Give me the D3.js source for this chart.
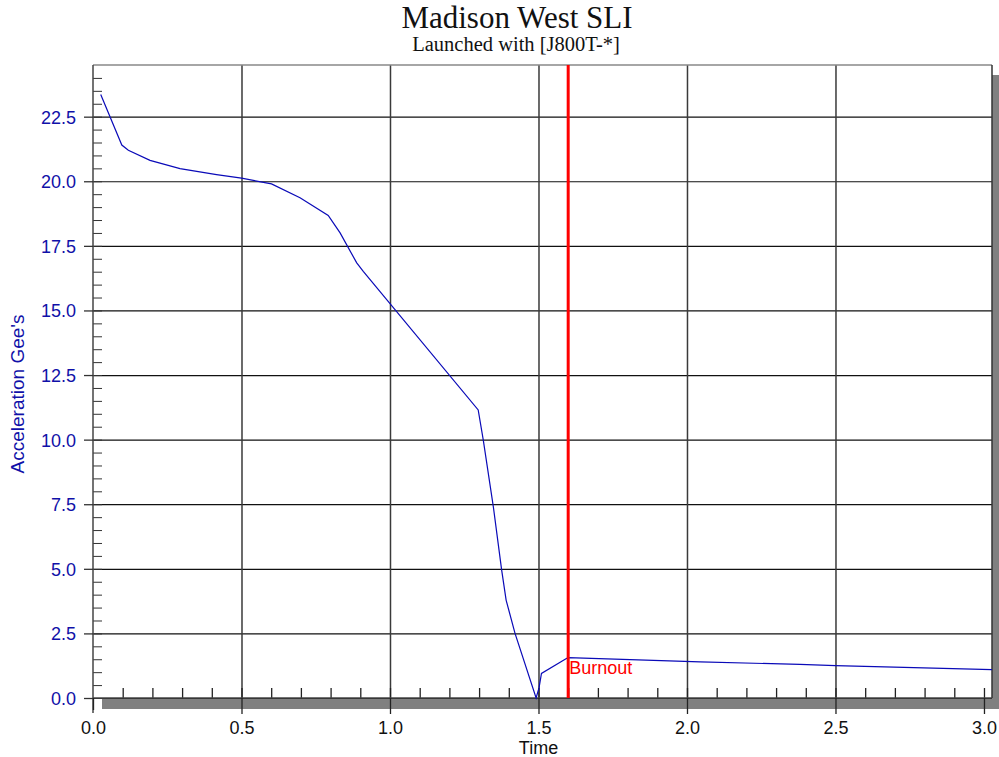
<!DOCTYPE html>
<html>
<head>
<meta charset="utf-8">
<script src="https://cdn.jsdelivr.net/npm/d3@7"></script>
<style>
  body { margin: 0; background: #fff; }
  svg text { font-family: "Liberation Sans", Arial, sans-serif; }
  .domain { display: none; }
</style>
</head>
<body>
<div id="chart-ctn"></div>
<script>
// Chart data
let timeValues = [0.026, 0.097, 0.119, 0.192, 0.293, 0.416, 0.5, 0.601, 0.697, 0.792, 0.832, 0.888, 0.91,
    1.297, 1.314, 1.348, 1.376, 1.391, 1.421, 1.492, 1.502, 1.51, 1.594, 1.6, 2.044, 2.38, 2.5, 3.027];
let accelValues = [23.36, 21.4, 21.2, 20.81, 20.49, 20.26, 20.12, 19.9, 19.36, 18.68, 18.0, 16.84, 16.51,
    11.15, 9.99, 7.4, 4.95, 3.79, 2.5, 0.0, 0.4, 0.95, 1.53, 1.56, 1.40, 1.30, 1.25, 1.10];
let xTicks = [0, 0.5, 1.0, 1.5, 2.0, 2.5, 3.0];
let yTicks = [0, 2.5, 5, 7.5, 10, 12.5, 15, 17.5, 20, 22.5];
let burnoutTime = 1.6;
let titleText = "Madison West SLI";
let subtitleText = "Launched with [J800T-*]";
let xLabel = "Time";
let yLabel = "Acceleration Gee's";

let margin = { top: 65, right: 7, bottom: 59, left: 93 };
let fullWidth = 999;
let fullHeight = 757;
let width = fullWidth - margin.left - margin.right;
let height = fullHeight - margin.top - margin.bottom;

let blue = "#1010a8";

let svg = d3.select("#chart-ctn")
    .append("svg")
    .attr("width", fullWidth)
    .attr("height", fullHeight);

let x = d3.scaleLinear().domain([0, 3.027]).range([0, width]);
let y = d3.scaleLinear().domain([0, 24.5]).range([height, 0]);

// drop shadow of the plot frame
svg.append("rect")
    .attr("x", margin.left + 9)
    .attr("y", margin.top + 10)
    .attr("width", width + 1)
    .attr("height", height + 1)
    .attr("fill", "#808080");

let g = svg.append("g")
    .attr("transform", `translate(${margin.left}, ${margin.top})`);

g.append("rect")
    .attr("width", width)
    .attr("height", height)
    .attr("fill", "#fff");

// horizontal grid lines
g.append("g")
    .attr("class", "y-grid")
    .call(d3.axisLeft(y).tickValues(yTicks).tickSize(-width).tickFormat(""))
    .selectAll("line")
    .attr("stroke", "#111")
    .attr("stroke-width", 1.2);

// vertical grid lines
g.append("g")
    .attr("class", "x-grid")
    .attr("transform", "translate(0," + height + ")")
    .call(d3.axisBottom(x).tickValues(xTicks.slice(1, 6)).tickSize(-height).tickFormat(""))
    .selectAll("line")
    .attr("stroke", "#3a3a3a")
    .attr("stroke-width", 1.5);

// minor ticks (inside)
g.append("g")
    .attr("class", "y-minor")
    .call(d3.axisLeft(y).tickValues(d3.range(0.5, 24.5, 0.5)).tickSize(-9).tickFormat(""))
    .selectAll("line")
    .attr("stroke", "#333");

g.append("g")
    .attr("class", "x-minor")
    .attr("transform", "translate(0," + height + ")")
    .call(d3.axisBottom(x).tickValues(d3.range(1, 31).map((d) => d / 10)).tickSize(-10).tickFormat(""))
    .selectAll("line")
    .attr("stroke", "#222")
    .attr("stroke-width", 1.3);

// frame
g.append("line").attr("x1", 0).attr("x2", width).attr("y1", 0).attr("y2", 0)
    .attr("stroke", "#888").attr("stroke-width", 1.5);
g.append("line").attr("x1", width).attr("x2", width).attr("y1", 0).attr("y2", height)
    .attr("stroke", "#333").attr("stroke-width", 1.5);
g.append("line").attr("x1", 0).attr("x2", width).attr("y1", height).attr("y2", height)
    .attr("stroke", "#444").attr("stroke-width", 1.5);
g.append("line").attr("x1", 0).attr("x2", 0).attr("y1", 0).attr("y2", height + 15)
    .attr("stroke", "#444").attr("stroke-width", 1.5);

// y axis, major ticks + labels
let yAxis = g.append("g")
    .attr("class", "y-axis")
    .call(d3.axisLeft(y).tickValues(yTicks).tickSize(9).tickPadding(8).tickFormat(d3.format(".1f")));
yAxis.selectAll("line").attr("stroke", "#333").attr("stroke-width", 1.3);
yAxis.selectAll("text")
    .attr("fill", blue)
    .style("font-size", "18px")
    .attr("dy", "0.36em");

// x axis, major ticks + labels
let xAxis = g.append("g")
    .attr("class", "x-axis")
    .attr("transform", "translate(0," + height + ")")
    .call(d3.axisBottom(x).tickValues(xTicks).tickSize(16).tickPadding(7).tickFormat(d3.format(".1f")));
xAxis.selectAll("line").attr("stroke", "#222").attr("stroke-width", 1.3);
xAxis.selectAll("text")
    .attr("fill", "#111")
    .style("font-size", "18px");
xAxis.select(".tick line").attr("y2", 12);

// acceleration curve
let series = timeValues.map((t, i) => ({ t: t, a: accelValues[i] }));
g.append("path")
    .datum(series)
    .attr("fill", "none")
    .attr("stroke", "#0a0ab8")
    .attr("stroke-width", 1.2)
    .attr("d", d3.line().x((d) => x(d.t)).y((d) => y(d.a)));

// burnout marker
g.append("line")
    .attr("x1", x(burnoutTime)).attr("x2", x(burnoutTime))
    .attr("y1", 0).attr("y2", height)
    .attr("stroke", "#ff0000")
    .attr("stroke-width", 3);

g.append("text")
    .attr("x", x(burnoutTime) + 1)
    .attr("y", y(0) - 24)
    .attr("fill", "#ff0000")
    .style("font-size", "18px")
    .text("Burnout");

// titles
svg.append("text")
    .attr("x", 517)
    .attr("y", 28)
    .attr("text-anchor", "middle")
    .style("font-family", "'Liberation Serif', 'Times New Roman', serif")
    .style("font-size", "31px")
    .attr("fill", "#111")
    .text(titleText);

svg.append("text")
    .attr("x", 516)
    .attr("y", 51)
    .attr("text-anchor", "middle")
    .style("font-family", "'Liberation Serif', 'Times New Roman', serif")
    .style("font-size", "20.5px")
    .attr("fill", "#111")
    .text(subtitleText);

// axis labels
svg.append("text")
    .attr("x", margin.left + x(1.5))
    .attr("y", 754)
    .attr("text-anchor", "middle")
    .style("font-size", "18px")
    .attr("fill", "#111")
    .text(xLabel);

svg.append("text")
    .attr("transform", "rotate(-90)")
    .attr("x", -394)
    .attr("y", 24)
    .attr("text-anchor", "middle")
    .style("font-size", "19px")
    .attr("fill", blue)
    .text(yLabel);
</script>
</body>
</html>
